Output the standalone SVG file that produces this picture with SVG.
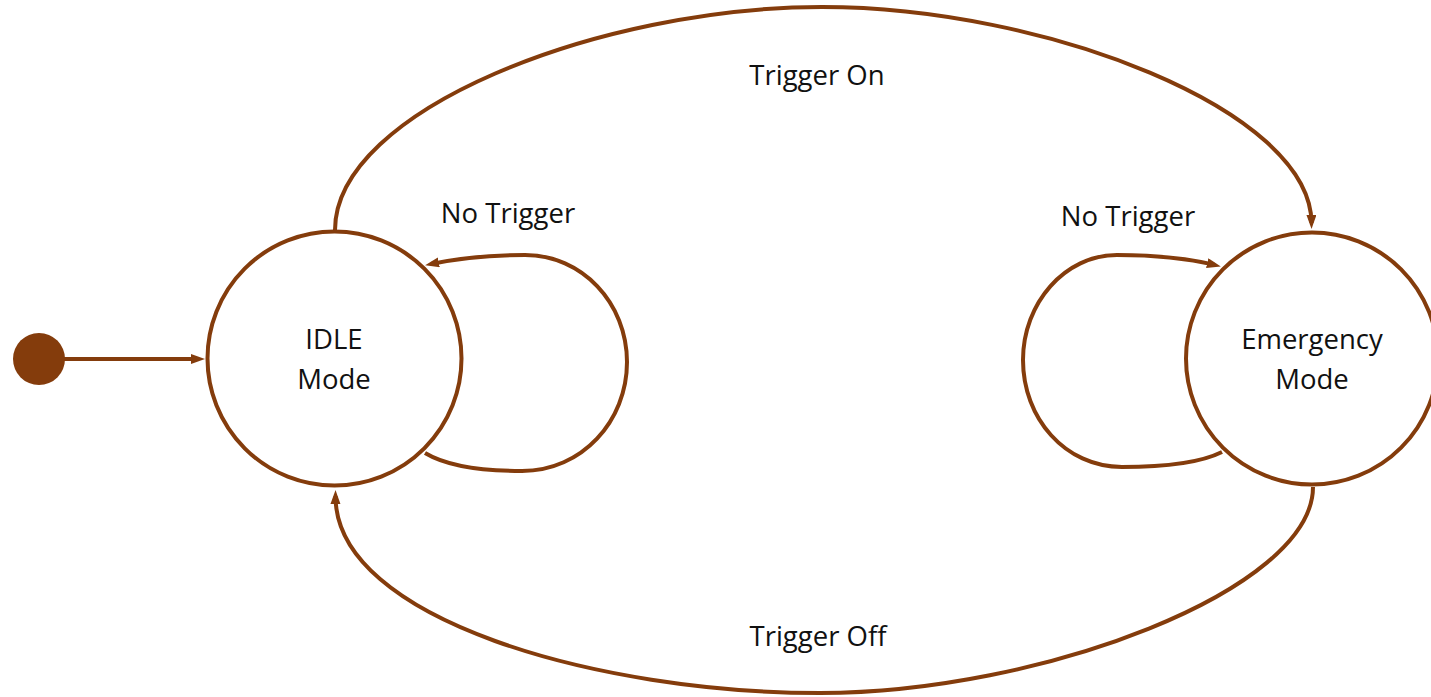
<svg xmlns="http://www.w3.org/2000/svg" width="1431" height="697" viewBox="0 0 1431 697">
  <style>
    .state { fill: #ffffff; stroke: #843C0C; stroke-width: 4; }
    .edge { fill: none; stroke: #843C0C; stroke-width: 4; marker-end: url(#arrow); }
    .label { font-family: "Open Sans", "Liberation Sans", sans-serif; font-size: 27.5px; fill: #111111; text-anchor: middle; }
  </style>
  <defs>
    <marker id="arrow" markerUnits="userSpaceOnUse" markerWidth="16" markerHeight="12" refX="8" refY="5" orient="auto">
      <path d="M0,0 L14,5 L0,10 z" fill="#843C0C"/>
    </marker>
  </defs>

  <rect width="1431" height="697" fill="#ffffff"/>

  <!-- transitions -->
  <g id="connectors">
    <line class="edge" x1="60" y1="359" x2="199" y2="359"/>
    <path class="edge" d="M335,230 C335,110 600,7 822,7 C1044,7 1311,110 1311.5,223"/>
    <path class="edge" d="M1313,487 C1313,590 1040,693 820,693 C600,693 335,620 335.5,496"/>
    <path class="edge" d="M425,453 C445,465 480,471 522,471 C582,471 627,421 627,362 C627,303 582,255 525,255 C490,255 460,258 431,264"/>
    <path class="edge" d="M1222,452 C1200,463 1165,467 1122,467 C1065,467 1023,418 1023,360 C1023,303 1065,255 1117,255 C1155,255 1190,259 1215,265"/>
    <text class="label" x="817" y="85">Trigger On</text>
    <text class="label" x="818" y="646">Trigger Off</text>
    <text class="label" x="508" y="223">No Trigger</text>
    <text class="label" x="1128" y="226">No Trigger</text>
  </g>

  <!-- initial pseudo-state -->
  <g id="start">
    <circle cx="39" cy="359" r="26" fill="#843C0C"/>
  </g>

  <!-- IDLE state -->
  <g id="idle">
    <circle class="state" cx="334.5" cy="358.5" r="127"/>
    <text class="label" x="334" y="349">IDLE</text>
    <text class="label" x="334" y="389">Mode</text>
  </g>

  <!-- Emergency state -->
  <g id="emergency">
    <circle class="state" cx="1312" cy="358.5" r="126"/>
    <text class="label" x="1312" y="349">Emergency</text>
    <text class="label" x="1312" y="389">Mode</text>
  </g>
</svg>
